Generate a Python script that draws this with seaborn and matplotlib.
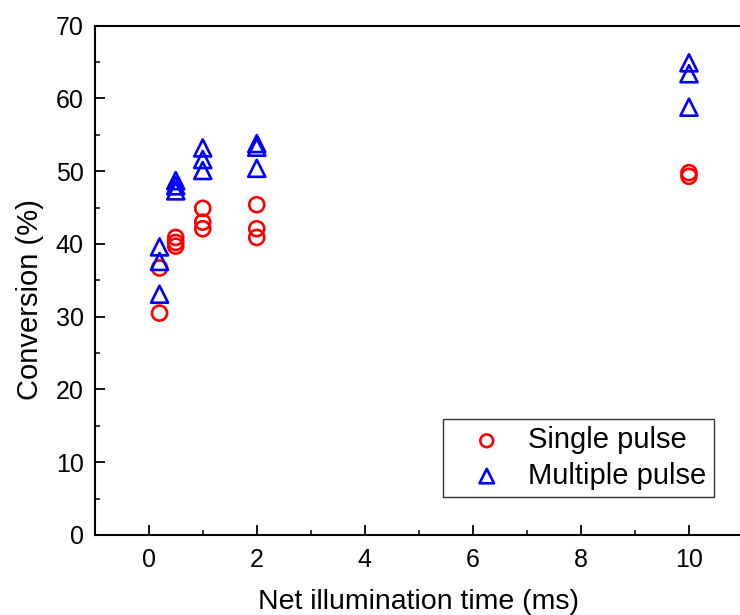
import numpy as np
import pandas as pd
import matplotlib
matplotlib.use("Agg")
import matplotlib.pyplot as plt
import seaborn as sns
from matplotlib.ticker import MultipleLocator

# Data
single_x = [0.2, 0.2, 0.5, 0.5, 0.5, 1, 1, 1, 2, 2, 2, 10, 10]
single_y = [30.5, 36.7, 40.9, 40.2, 39.7, 44.9, 43.0, 42.1, 45.4, 42.1, 40.9, 49.8, 49.3]
multi_x = [0.2, 0.2, 0.2, 0.5, 0.5, 0.5, 1, 1, 1, 2, 2, 2, 10, 10, 10]
multi_y = [33.1, 37.6, 39.6, 48.7, 48.0, 47.3, 53.2, 51.6, 50.1, 53.8, 53.3, 50.4, 64.9, 63.4, 58.8]
series_names = ["Single pulse", "Multiple pulse"]
x_ticks = [0, 2, 4, 6, 8, 10]
y_ticks = [0, 10, 20, 30, 40, 50, 60, 70]

sns.set_theme(style="ticks")
plt.rcParams['font.family'] = ['Liberation Sans', 'DejaVu Sans']
plt.rcParams['text.color'] = 'black'
plt.rcParams['axes.labelcolor'] = 'black'

fig = plt.figure(figsize=(7.4, 6.15), dpi=100)
ax = fig.add_axes([94.7 / 740, 1 - 535 / 615, (743 - 94.7) / 740, (535 - 25.7) / 615])

df_s = pd.DataFrame({"x": single_x, "y": single_y})
df_m = pd.DataFrame({"x": multi_x, "y": multi_y})

sns.scatterplot(data=df_s, x="x", y="y", marker="o", s=117, color="red",
                linewidth=1.8, label=series_names[0], ax=ax)
sns.scatterplot(data=df_m, x="x", y="y", marker="^", s=150, color="blue",
                linewidth=1.8, label=series_names[1], ax=ax)
for coll, col in zip(ax.collections, ["red", "blue"]):
    coll.set_facecolor("none")
    coll.set_edgecolor(col)
    coll.set_linewidth(1.9)

ax.set_xlim(-1, 11)
ax.set_ylim(0, 70)
ax.set_xticks(x_ticks)
ax.set_yticks(y_ticks)
ax.xaxis.set_minor_locator(MultipleLocator(1))
ax.yaxis.set_minor_locator(MultipleLocator(5))
ax.tick_params(axis="both", which="major", direction="in", length=7, width=1.3,
               labelsize=18, colors="black", top=False, right=False)
ax.tick_params(axis="x", which="major", pad=9.5)
ax.tick_params(axis="y", which="major", pad=8)
ax.tick_params(axis="both", which="minor", direction="in", length=3.7, width=1.3,
               top=False, right=False)
for sp in ax.spines.values():
    sp.set_linewidth(1.5)
    sp.set_color("black")

ax.set_xlabel("Net illumination time (ms)", fontsize=20.5, labelpad=12)
ax.set_ylabel("Conversion (%)", fontsize=21)
ax.yaxis.set_label_coords(-0.078, 0.463)

handles, labels = ax.get_legend_handles_labels()
for h, col in zip(handles, ["red", "blue"]):
    try:
        h.set_facecolor("none")
        h.set_edgecolor(col)
        h.set_linewidth(1.9)
    except Exception:
        pass
leg = ax.legend(handles, labels, loc="lower left",
                bbox_to_anchor=(443 / 740, 1 - 497 / 615), bbox_transform=fig.transFigure,
                fontsize=21, frameon=True, fancybox=False, edgecolor="black",
                handletextpad=0.17, borderpad=0.25, labelspacing=0.25,
                handlelength=2.5, markerscale=0.85, borderaxespad=0)
leg.get_frame().set_linewidth(1.0)

fig.savefig("out.png", dpi=100)
